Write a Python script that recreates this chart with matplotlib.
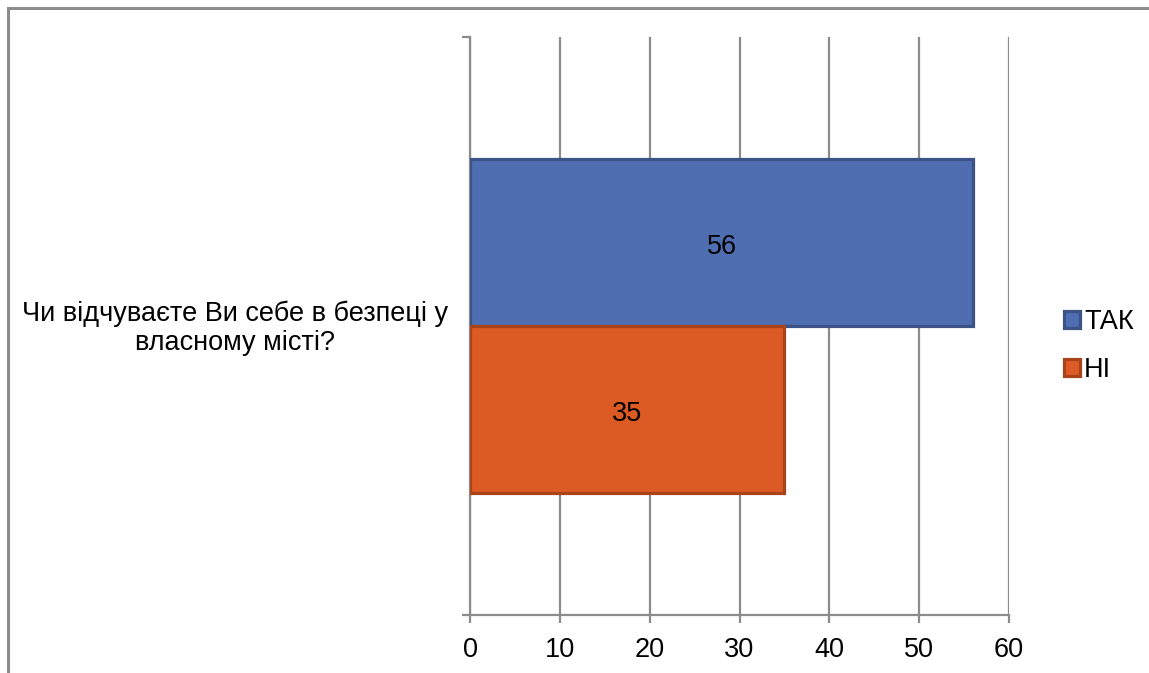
import matplotlib
matplotlib.use("Agg")
import matplotlib.pyplot as plt
from matplotlib.patches import Patch, Rectangle

question = "Чи відчуваєте Ви себе в безпеці у\nвласному місті?"
series = ["ТАК", "НІ"]
values = [56, 35]
face = ["#4F6EB1", "#DC5A23"]
edge = ["#3C5388", "#A9441A"]
xticks = [0, 10, 20, 30, 40, 50, 60]

plt.rcParams["font.family"] = ["Liberation Sans", "DejaVu Sans"]
GRAY = "#8C8C8C"
FS = 19.5

fig = plt.figure(figsize=(11.49, 6.73), dpi=100)
fig.patches.append(Rectangle((8 / 1149, -0.1), 1.2, 1 - 8 / 673 + 0.1, transform=fig.transFigure,
                             fill=False, edgecolor=GRAY, lw=2.2, zorder=0))
ax = fig.add_axes([470 / 1149, 1 - 615 / 673, 539 / 1149, 578 / 673])

h = 0.289
pos = [h / 2, -h / 2]
for v, p, fc, ec, lab in zip(values, pos, face, edge, series):
    ax.barh(p, v, height=h, color=fc, edgecolor=ec, lw=2.3, zorder=3, label=lab)
    ax.text(v / 2, p - 0.008, str(v), ha="center", va="center", fontsize=FS, zorder=4)

ax.set_xlim(0, 60)
ax.set_ylim(-0.5, 0.5)
ax.set_xticks(xticks)
ax.tick_params(axis="x", labelsize=FS, length=6, width=1.6, color=GRAY, pad=10)
ax.set_yticks([-0.5, 0.5])
ax.set_yticklabels([])
ax.tick_params(axis="y", length=6, width=1.6, color=GRAY)
ax.grid(axis="x", color=GRAY, lw=1.6, zorder=1)
for s in ["top", "right"]:
    ax.spines[s].set_visible(False)
for s in ["left", "bottom"]:
    ax.spines[s].set_color(GRAY)
    ax.spines[s].set_linewidth(1.6)
ax.set_axisbelow(True)

fig.text(235 / 1149, 1 - 328 / 673, question, ha="center", va="center", fontsize=FS, linespacing=1.15)

handles = [Patch(facecolor=fc, edgecolor=ec, lw=2.3) for fc, ec in zip(face, edge)]
fig.legend(handles, series, loc="center left", bbox_to_anchor=(1053 / 1149, 1 - 346 / 673),
           frameon=False, fontsize=FS, handlelength=0.6, handleheight=0.6, handletextpad=0.15,
           labelspacing=0.8, borderaxespad=0)

fig.savefig("out.png", dpi=100)
